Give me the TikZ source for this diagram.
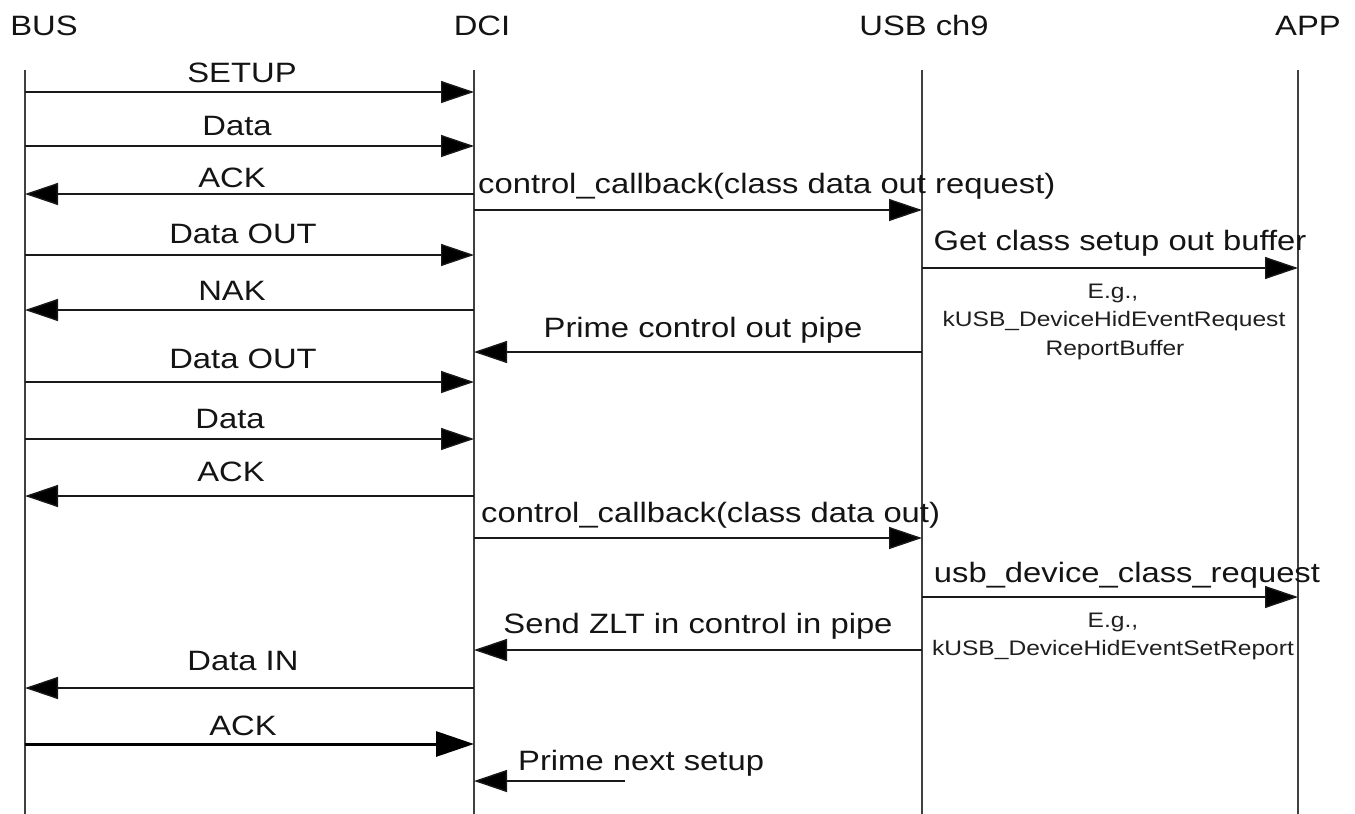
\documentclass[tikz,border=0pt]{standalone}
\usepackage{fontspec}
\setmainfont{Liberation Sans}[FakeStretch=1.17]
\usetikzlibrary{arrows.meta}
\begin{document}
\begin{tikzpicture}[x=1pt,y=-1pt,
  life/.style={line width=1.3pt, draw=black!75},
  msg/.style={line width=1.4pt, draw=black!90, -{Triangle[length=33pt,width=22pt,fill=black]}},
  thickmsg/.style={line width=3pt, draw=black, -{Triangle[length=38pt,width=25pt,fill=black]}},
  big/.style={font=\fontsize{28}{30}\selectfont, text=black!92, inner sep=0pt, anchor=base},
  bigl/.style={big, anchor=base west},
  small/.style={font=\fontsize{21}{28.5}\selectfont, text=black!88, inner sep=0pt, anchor=base},
]
\useasboundingbox (0,0) rectangle (1355,814);
% headers
\node[big] (bus) at (44,35) {BUS};
\node[big] (dci) at (482,35) {DCI};
\node[big] (usb) at (924,35) {USB ch9};
\node[big] (app) at (1308,35) {APP};
% lifelines
\coordinate (busT) at (25,70);   \coordinate (busB) at (25,814);
\coordinate (dciT) at (474,70);  \coordinate (dciB) at (474,814);
\coordinate (usbT) at (922,70);  \coordinate (usbB) at (922,814);
\coordinate (appT) at (1298,70); \coordinate (appB) at (1298,814);
\draw[life] (busT) -- (busB);
\draw[life] (dciT) -- (dciB);
\draw[life] (usbT) -- (usbB);
\draw[life] (appT) -- (appB);
% messages
\draw[msg] (busT |- 0,92) -- (dciT |- 0,92);
\node[big] (l1) at (242,82) {SETUP};
\draw[msg] (busT |- 0,146) -- (dciT |- 0,146);
\node[big] (l2) at (237,135) {Data};
\draw[msg] (dciT |- 0,194) -- (busT |- 0,194);
\node[big] (l3) at (232,187) {ACK};
\draw[msg] (dciT |- 0,210) -- (usbT |- 0,210);
\node[bigl] (l4) at (478,193) {control\_callback(class data out request)};
\draw[msg] (busT |- 0,255) -- (dciT |- 0,255);
\node[big] (l5) at (243,243) {Data OUT};
\draw[msg] (usbT |- 0,268) -- (appT |- 0,268);
\node[big] (l6) at (1120,250) {Get class setup out buffer};
\node[small] (n6a) at (1113,298) {E.g.,};
\node[small] (n6b) at (1114,326) {kUSB\_DeviceHidEventRequest};
\node[small] (n6c) at (1115,355) {ReportBuffer};
\draw[msg] (dciT |- 0,310) -- (busT |- 0,310);
\node[big] (l7) at (232,300) {NAK};
\draw[msg] (usbT |- 0,352) -- (dciT |- 0,352);
\node[big] (l8) at (703,337) {Prime control out pipe};
\draw[msg] (busT |- 0,382) -- (dciT |- 0,382);
\node[big] (l9) at (243,368) {Data OUT};
\draw[msg] (busT |- 0,439) -- (dciT |- 0,439);
\node[big] (l10) at (230,428) {Data};
\draw[msg] (dciT |- 0,496) -- (busT |- 0,496);
\node[big] (l11) at (231,481) {ACK};
\draw[msg] (dciT |- 0,538) -- (usbT |- 0,538);
\node[bigl] (l12) at (481,522) {control\_callback(class data out)};
\draw[msg] (usbT |- 0,597) -- (appT |- 0,597);
\node[big] (l13) at (1127,582) {usb\_device\_class\_request};
\node[small] (n13a) at (1113,627) {E.g.,};
\node[small] (n13b) at (1113,655) {kUSB\_DeviceHidEventSetReport};
\draw[msg] (usbT |- 0,650) -- (dciT |- 0,650);
\node[big] (l14) at (698,633) {Send ZLT in control in pipe};
\draw[msg] (dciT |- 0,688) -- (busT |- 0,688);
\node[big] (l15) at (243,670) {Data IN};
\draw[thickmsg] (busT |- 0,744) -- (dciT |- 0,744);
\node[big] (l16) at (243,735) {ACK};
\coordinate (pn) at (625,781);
\draw[msg] (pn) -- (dciT |- pn);
\node[bigl] (l17) at (518,770) {Prime next setup};
\end{tikzpicture}
\end{document}
